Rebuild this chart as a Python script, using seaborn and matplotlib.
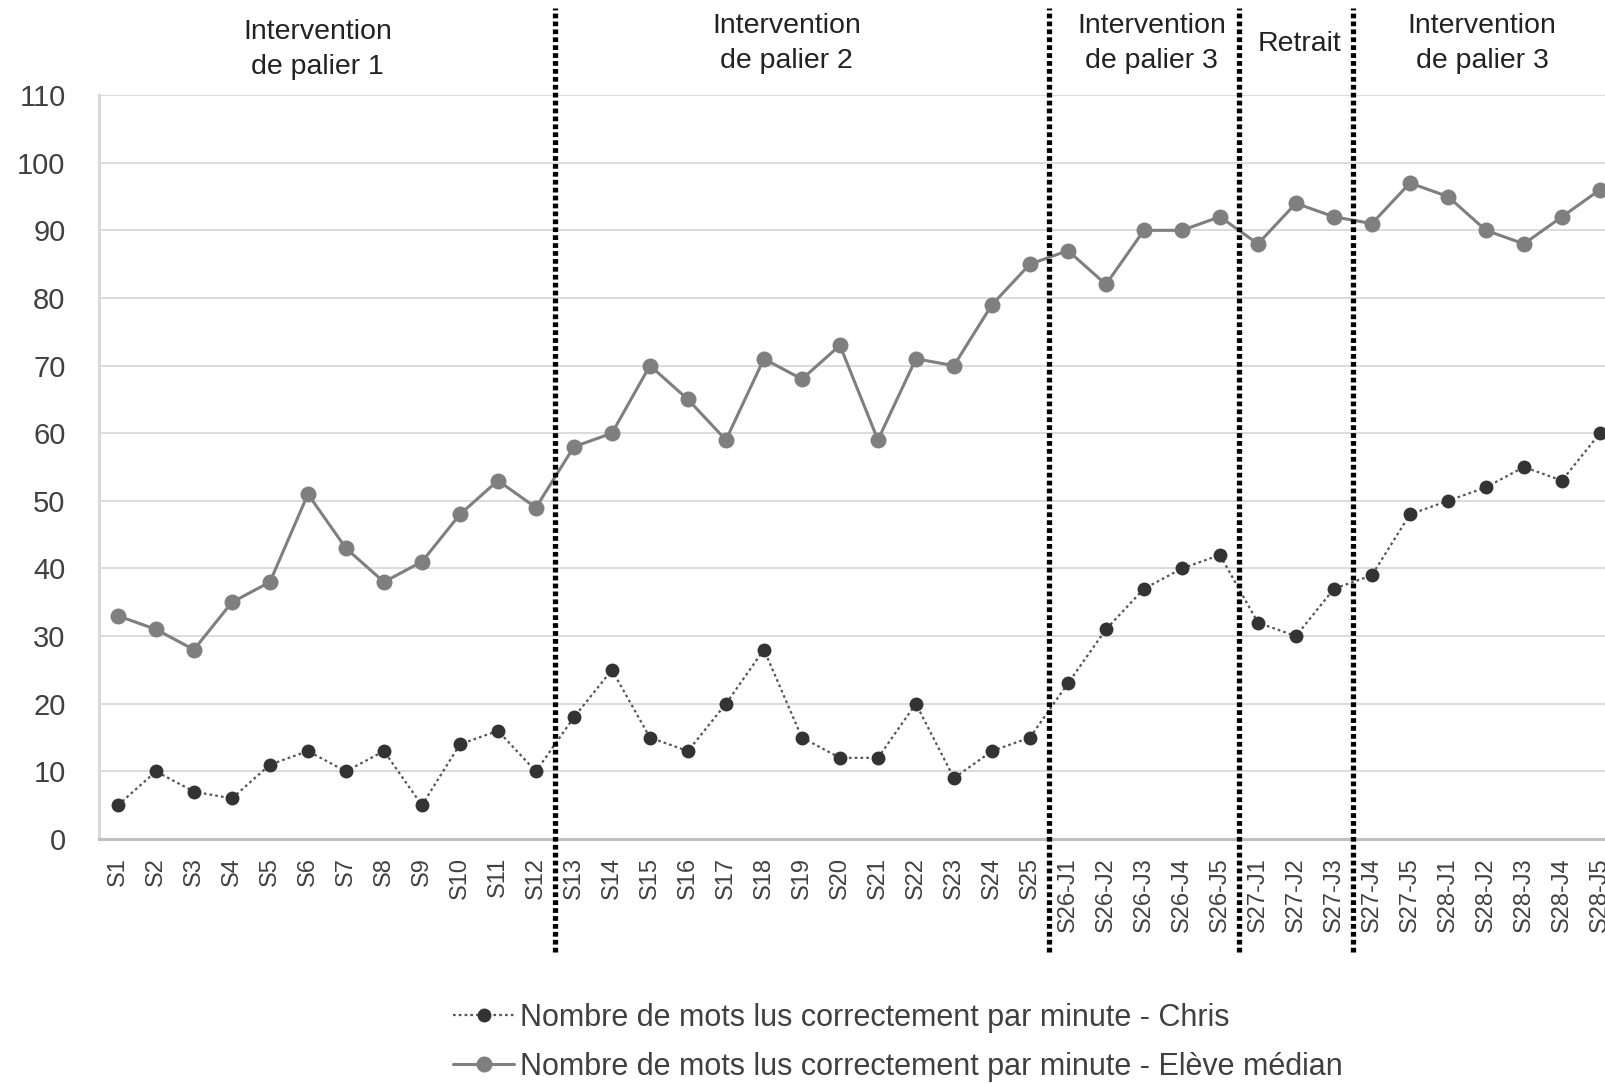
import matplotlib
matplotlib.use("Agg")
import matplotlib.pyplot as plt
from matplotlib.lines import Line2D
import pandas as pd
import seaborn as sns

sessions = (
    [f"S{i}" for i in range(1, 26)]
    + [f"S26-J{i}" for i in range(1, 6)]
    + [f"S27-J{i}" for i in range(1, 6)]
    + [f"S28-J{i}" for i in range(1, 6)]
)

chris = [5, 10, 7, 6, 11, 13, 10, 13, 5, 14, 16, 10,
         18, 25, 15, 13, 20, 28, 15, 12, 12, 20, 9, 13, 15,
         23, 31, 37, 40, 42,
         32, 30, 37, 39, 48,
         50, 52, 55, 53, 60]
median = [33, 31, 28, 35, 38, 51, 43, 38, 41, 48, 53, 49,
          58, 60, 70, 65, 59, 71, 68, 73, 59, 71, 70, 79, 85,
          87, 82, 90, 90, 92,
          88, 94, 92, 91, 97,
          95, 90, 88, 92, 96]

# phase boundaries sit between two sessions
phase_breaks = [11.5, 24.5, 29.5, 32.5]
phase_labels = ["Intervention\nde palier 1", "Intervention\nde palier 2",
                "Intervention\nde palier 3", "Retrait",
                "Intervention\nde palier 3"]
phase_label_x = [5.25, 17.6, 27.2, 31.1, 35.9]
phase_label_y = [116.8, 117.6, 117.6, 117.5, 117.6]

label_chris = "Nombre de mots lus correctement par minute - Chris"
label_median = "Nombre de mots lus correctement par minute - Elève médian"

df = pd.DataFrame({"pos": range(len(sessions)), "session": sessions,
                   "chris": chris, "median": median})

sns.set_style("white")
plt.rcParams["font.family"] = ["Liberation Sans", "DejaVu Sans"]

fig = plt.figure(figsize=(16.06, 10.84), dpi=100)
ax = fig.add_axes([0.0616, 0.226, 0.9384, 0.6863])

# horizontal grid
for v in range(10, 111, 10):
    ax.axhline(v, color="#d9d9d9", lw=1.3, zorder=0)

c_chris = "#333333"
c_median = "#7f7f7f"

sns.lineplot(data=df, x="pos", y="median", ax=ax, color=c_median,
             lw=2.2, marker="o", markersize=11.5, markeredgewidth=0,
             zorder=3)
sns.lineplot(data=df, x="pos", y="chris", ax=ax, color="#555555",
             lw=1.6, linestyle=(0, (1.2, 1.4)), marker="o", markersize=10,
             markerfacecolor=c_chris, markeredgewidth=0, zorder=4)

# phase separators
ax.vlines(phase_breaks, -16.7, 122.9, colors="black", lw=3.8,
          linestyles=[(0, (0.9, 0.6))], clip_on=False, zorder=5)

for x, y, t in zip(phase_label_x, phase_label_y, phase_labels):
    ax.text(x, y, t, ha="center", va="center", fontsize=20.5,
            color="#222222", linespacing=1.45, clip_on=False)

ax.set_xlim(-0.5, 39.16)
ax.set_ylim(0, 110)
ax.set_yticks(range(0, 111, 10))
ax.set_xticks(df["pos"])
ax.set_xticklabels(sessions, rotation=90, fontsize=17, color="#404040")
ax.tick_params(axis="y", labelsize=21, labelcolor="#404040", length=0, pad=24)
ax.tick_params(axis="x", length=0, pad=13)
ax.set_xlabel("")
ax.set_ylabel("")

for s in ["top", "right"]:
    ax.spines[s].set_visible(False)
ax.spines["left"].set_color("#d9d9d9")
ax.spines["left"].set_linewidth(2.2)
ax.spines["bottom"].set_color("#bfbfbf")
ax.spines["bottom"].set_linewidth(2.2)

handles = [
    Line2D([], [], color="#555555", lw=1.6, linestyle=(0, (1.2, 1.4)),
           marker="o", markersize=10, markerfacecolor=c_chris,
           markeredgewidth=0),
    Line2D([], [], color=c_median, lw=2.2, marker="o", markersize=11.5,
           markeredgewidth=0),
]
fig.legend(handles, [label_chris, label_median], loc="upper left",
           bbox_to_anchor=(0.265, 0.10), frameon=False, fontsize=22,
           handlelength=2.0, handletextpad=0.2, labelspacing=0.62,
           labelcolor="#404040")

fig.savefig("out.png", dpi=100)
